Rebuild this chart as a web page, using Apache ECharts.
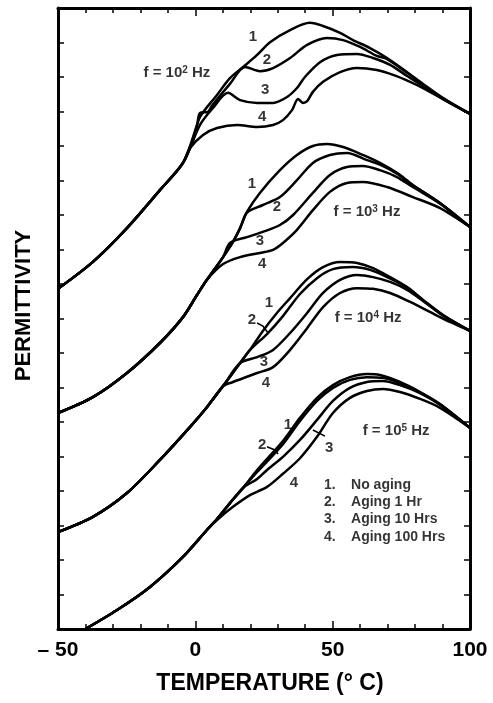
<!DOCTYPE html>
<html><head><meta charset="utf-8">
<script src="https://cdn.jsdelivr.net/npm/echarts@6/dist/echarts.min.js"></script>
<style>html,body{margin:0;padding:0;background:#fff}#c{width:493px;height:703px}</style>
</head><body><div id="c"></div>
<script>
// ---- Data: [temperature °C, permittivity (arbitrary units)] ----
// f = 10^2 Hz
const g1Base = [[-50,9.86],[-37.3,10.64],[-24.9,11.62],[-12.9,12.72],[-4.5,13.51]];
const g1NoAging = [[-0.8,14.17],[1.7,14.84],[7.9,15.48],[12.6,15.97],[17.4,16.29],[22.5,16.64],[27.2,17.01],[34.5,17.36],[41.7,17.57],[46.5,17.48],[52.7,17.28],[57.4,17.07],[63.6,16.84],[69.8,16.55],[77.1,16.14],[82.9,15.80],[90.2,15.39],[100,14.93]];
const g1Aging1 = [[0.6,14.61],[1.7,14.96],[4.6,14.99],[6.1,15.17],[12.6,15.80],[18.1,16.29],[23.5,16.17],[28.3,16.26],[34.5,16.55],[40.7,16.93],[47.9,17.13],[53.8,17.07],[60.0,16.87],[66.1,16.61],[69.8,16.52],[77.1,16.12],[82.9,15.77],[90.2,15.38],[100,14.93]];
const g1Aging10 = [[1.7,14.61],[6.4,15.10],[11.9,15.54],[16.3,15.33],[22.5,15.25],[28.3,15.25],[33.4,15.42],[37.0,15.68],[39.9,16.0],[45.4,16.43],[51.6,16.64],[58.9,16.67],[64.7,16.55],[70.9,16.35],[77.1,16.03],[82.9,15.74],[90.2,15.36],[100,14.93]];
const g1Aging100 = [[-1.9,13.94],[2.8,14.32],[7.9,14.52],[15.2,14.61],[22.5,14.55],[28.3,14.61],[31.9,14.75],[35.2,15.04],[37.4,15.36],[39.2,15.25],[40.7,15.30],[42.8,15.57],[46.5,15.86],[52.7,16.14],[58.9,16.26],[66.1,16.20],[72.0,16.06],[78.2,15.86],[82.9,15.68],[90.2,15.36],[100,14.93]];
// f = 10^3 Hz
const g2Base = [[-50,6.26],[-37.3,6.72],[-24.9,7.42],[-12.9,8.29],[-4.5,9.04],[0.6,9.68],[4.2,10.12]];
const g2NoAging = [[10.1,10.78],[13.7,11.22],[16.3,11.62],[18.8,12.09],[23.5,12.64],[30.8,13.30],[37.0,13.74],[42.8,14.00],[47.9,14.06],[53.8,13.97],[61.0,13.74],[67.2,13.51],[73.4,13.22],[79.2,12.87],[89.1,12.35],[100,11.65]];
const g2Aging1 = [[10.1,10.78],[13.7,11.22],[16.3,11.62],[18.8,12.07],[24.6,12.29],[30.8,12.52],[37.0,13.01],[42.8,13.51],[49.0,13.74],[55.2,13.80],[62.5,13.59],[67.2,13.46],[73.4,13.20],[79.2,12.86],[89.1,12.34],[100,11.65]];
const g2Aging10 = [[10.1,10.78],[12.6,11.19],[18.8,11.36],[24.6,11.51],[30.8,11.71],[35.6,12.0],[42.8,12.64],[49.0,13.16],[55.2,13.39],[61.0,13.42],[67.2,13.30],[73.4,13.10],[79.2,12.81],[89.1,12.33],[100,11.65]];
const g2Aging100 = [[10.1,10.58],[16.3,10.78],[23.5,10.90],[28.3,10.99],[31.9,11.19],[37.0,11.57],[42.8,12.14],[49.0,12.67],[55.2,12.93],[61.0,12.96],[69.8,12.81],[79.2,12.52],[89.1,12.20],[100,11.65]];
// f = 10^4 Hz
const g3Base = [[-50,2.81],[-37.3,3.25],[-24.9,3.94],[-12.9,4.90],[-1.9,5.86],[4.2,6.43],[10.1,7.04]];
const g3NoAging = [[16.3,7.71],[19.9,8.09],[24.6,8.64],[29.7,9.16],[34.5,9.59],[40.7,10.14],[46.5,10.49],[52.7,10.64],[58.9,10.61],[64.7,10.46],[70.9,10.20],[77.1,9.91],[82.9,9.54],[90.2,9.10],[100,8.64]];
const g3Aging1 = [[16.3,7.71],[19.9,8.09],[26.1,8.55],[31.9,9.07],[38.1,9.71],[44.3,10.17],[50.1,10.43],[57.4,10.49],[63.6,10.41],[69.1,10.23],[77.1,9.90],[82.9,9.53],[90.2,9.09],[100,8.64]];
const g3Aging10 = [[16.3,7.71],[22.5,7.88],[28.3,8.09],[34.5,8.58],[40.7,9.16],[46.5,9.74],[52.7,10.12],[58.9,10.26],[64.7,10.20],[70.9,10.06],[77.1,9.83],[82.9,9.51],[90.2,9.08],[100,8.64]];
const g3Aging100 = [[13.7,7.16],[22.5,7.42],[28.3,7.59],[34.5,8.09],[40.7,8.72],[46.5,9.33],[52.7,9.74],[58.9,9.88],[64.7,9.86],[70.9,9.74],[78.2,9.48],[85.4,9.19],[92.7,8.90],[100,8.64]];
// f = 10^5 Hz
const g4Base = [[-40,0],[-28.5,0.55],[-16.5,1.22],[-4.5,2.09],[4.2,2.87]];
const g4NoAging = [[7.9,3.19],[12.6,3.65],[17.4,4.09],[22.5,4.61],[31.9,5.45],[38.1,6.12],[44.3,6.70],[50.1,7.07],[56.3,7.30],[62.5,7.39],[67.2,7.36],[74.5,7.16],[81.8,6.87],[89.1,6.52],[100,5.83]];
const g4Aging1 = [[7.9,3.19],[12.6,3.65],[17.4,4.09],[22.5,4.55],[31.9,5.36],[38.1,6.03],[44.3,6.61],[50.1,6.99],[56.3,7.22],[62.5,7.30],[68.3,7.28],[74.5,7.13],[81.8,6.86],[89.1,6.51],[100,5.83]];
const g4Aging10 = [[7.9,3.19],[12.6,3.65],[17.4,4.09],[22.5,4.35],[26.1,4.61],[31.9,4.99],[38.1,5.48],[44.3,6.06],[50.1,6.61],[56.3,6.99],[62.5,7.16],[68.3,7.19],[74.5,7.07],[81.8,6.84],[89.1,6.50],[100,5.83]];
const g4Aging100 = [[7.9,3.16],[13.7,3.54],[19.9,3.88],[26.1,4.12],[31.9,4.50],[38.1,4.95],[44.3,5.57],[50.1,6.26],[56.3,6.70],[62.5,6.90],[68.3,6.96],[74.5,6.87],[81.8,6.67],[89.1,6.41],[100,5.83]];

// ---- Axis ----
const xTicks = [-50, 0, 50, 100];

// ---- Annotations ----
const curveLabels = [
  [21.0,17.16,'1'],[26.1,16.49,'2'],[25.4,15.62,'3'],[24.3,14.84,'4'],
  [20.6,12.90,'1'],[29.7,12.23,'2'],[23.5,11.25,'3'],[24.3,10.58,'4'],
  [26.8,9.45,'1'],[20.6,8.96,'2'],[25.0,7.74,'3'],[25.7,7.13,'4'],
  [33.7,5.91,'1'],[24.3,5.33,'2'],[48.7,5.25,'3'],[35.9,4.23,'4']
];
const freqLabels = [[-6.7,16.12,'2'],[62.5,12.09,'3'],[62.9,9.01,'4'],[73.1,5.74,'5']];
const legendNums = ['1.','2.','3.','4.'];
const legendTexts = ['No aging','Aging 1 Hr','Aging 10 Hrs','Aging 100 Hrs'];
const legendRowsY = [4.17,3.68,3.19,2.67];
const legendNumX = 46.8, legendTextX = 56.7;
const leaders = [
  [[22.5,8.87],[24.6,8.78],[26.5,8.58]],
  [[26.1,5.28],[29.0,5.19],[30.1,5.07]],
  [[42.8,5.77],[47.2,5.59]]
];

const FONT = '"Liberation Sans", Arial, Helvetica, sans-serif';
const groups = [
  [g1Base,[g1NoAging,g1Aging1,g1Aging10,g1Aging100]],
  [g2Base,[g2NoAging,g2Aging1,g2Aging10,g2Aging100]],
  [g3Base,[g3NoAging,g3Aging1,g3Aging10,g3Aging100]],
  [g4Base,[g4NoAging,g4Aging1,g4Aging10,g4Aging100]]
];

const series = [];
groups.forEach(([base, curves]) => {
  curves.forEach(c => {
    series.push({
      type:'line', data: base.concat(c), showSymbol:false, smooth:0.3,
      lineStyle:{color:'#000', width:2.5}, silent:true, clip:true, z:3
    });
  });
});
leaders.forEach(l => series.push({
  type:'line', data:l, showSymbol:false, lineStyle:{color:'#000', width:1.6}, silent:true, z:3
}));

series.push({
  type:'scatter', symbolSize:0, silent:true, z:5,
  data: curveLabels.map(d => ({value:[d[0],d[1]], name:d[2]})),
  label:{show:true, position:'inside', formatter:p=>p.name, fontSize:15, color:'#000', fontFamily:FONT, fontWeight:'bold'}
});
series.push({
  type:'scatter', symbolSize:0, silent:true, z:5,
  data: freqLabels.map(d => ({value:[d[0],d[1]], name:d[2]})),
  label:{show:true, position:'inside', formatter:p=>'f = 10{s|'+p.name+'} Hz', fontSize:15, color:'#000', fontFamily:FONT, fontWeight:'bold',
    rich:{s:{fontSize:10, fontWeight:'bold', fontFamily:FONT, color:'#000', verticalAlign:'top', lineHeight:15}}}
});
series.push({
  type:'scatter', symbolSize:0, silent:true, z:5,
  data: legendNums.map((t,i) => ({value:[legendNumX, legendRowsY[i]], name:t})),
  label:{show:true, position:'inside', align:'left', formatter:p=>p.name, fontSize:14, color:'#000', fontFamily:FONT, fontWeight:'bold'}
});
series.push({
  type:'scatter', symbolSize:0, silent:true, z:5,
  data: legendTexts.map((t,i) => ({value:[legendTextX, legendRowsY[i]], name:t})),
  label:{show:true, position:'inside', align:'left', formatter:p=>p.name, fontSize:14, color:'#000', fontFamily:FONT, fontWeight:'bold'}
});

const axLine = {show:true, onZero:false, lineStyle:{color:'#000', width:3}};
const option = {
  animation:false,
  backgroundColor:'#fff',
  grid:{left:58, right:23, top:8, bottom:74, containLabel:false},
  xAxis:[{
    type:'value', min:-50, max:100, interval:50, position:'bottom',
    axisLine:axLine,
    axisTick:{show:true, inside:true, length:8, lineStyle:{color:'#000', width:1.5}},
    minorTick:{show:true, splitNumber:5, length:5, lineStyle:{color:'#000', width:1.5}},
    splitLine:{show:false},
    axisLabel:{show:true, margin:11, fontSize:21, fontWeight:'bold', color:'#000', fontFamily:FONT,
      formatter:v => xTicks.includes(v) ? (v < 0 ? '\u2013 ' + Math.abs(v) : String(v)) : ''},
    name:'TEMPERATURE (\u00B0 C)', nameLocation:'middle', nameGap:43,
    nameTextStyle:{fontSize:23, fontWeight:'bold', color:'#000', fontFamily:FONT, padding:[0,0,0,12]}
  },{
    type:'value', min:-50, max:100, interval:50, position:'top',
    axisLine:axLine,
    axisTick:{show:true, inside:true, length:8, lineStyle:{color:'#000', width:1.5}},
    minorTick:{show:true, splitNumber:5, length:5, lineStyle:{color:'#000', width:1.5}},
    splitLine:{show:false}, axisLabel:{show:false}
  }],
  yAxis:[{
    type:'value', min:0, max:18, interval:1, position:'left',
    axisLine:axLine,
    axisTick:{show:true, inside:true, length:6, lineStyle:{color:'#000', width:1.5}},
    splitLine:{show:false}, axisLabel:{show:false},
    name:'PERMITTIVITY', nameLocation:'middle', nameGap:23, nameRotate:90,
    nameTextStyle:{fontSize:22, fontWeight:'bold', color:'#000', fontFamily:FONT, padding:[0,0,0,26]}
  },{
    type:'value', min:0, max:18, interval:1, position:'right',
    axisLine:axLine,
    axisTick:{show:true, inside:true, length:6, lineStyle:{color:'#000', width:1.5}},
    splitLine:{show:false}, axisLabel:{show:false}
  }],
  series: series
};
const chart = echarts.init(document.getElementById('c'), null, {renderer:'canvas'});
chart.setOption(option);
</script></body></html>
